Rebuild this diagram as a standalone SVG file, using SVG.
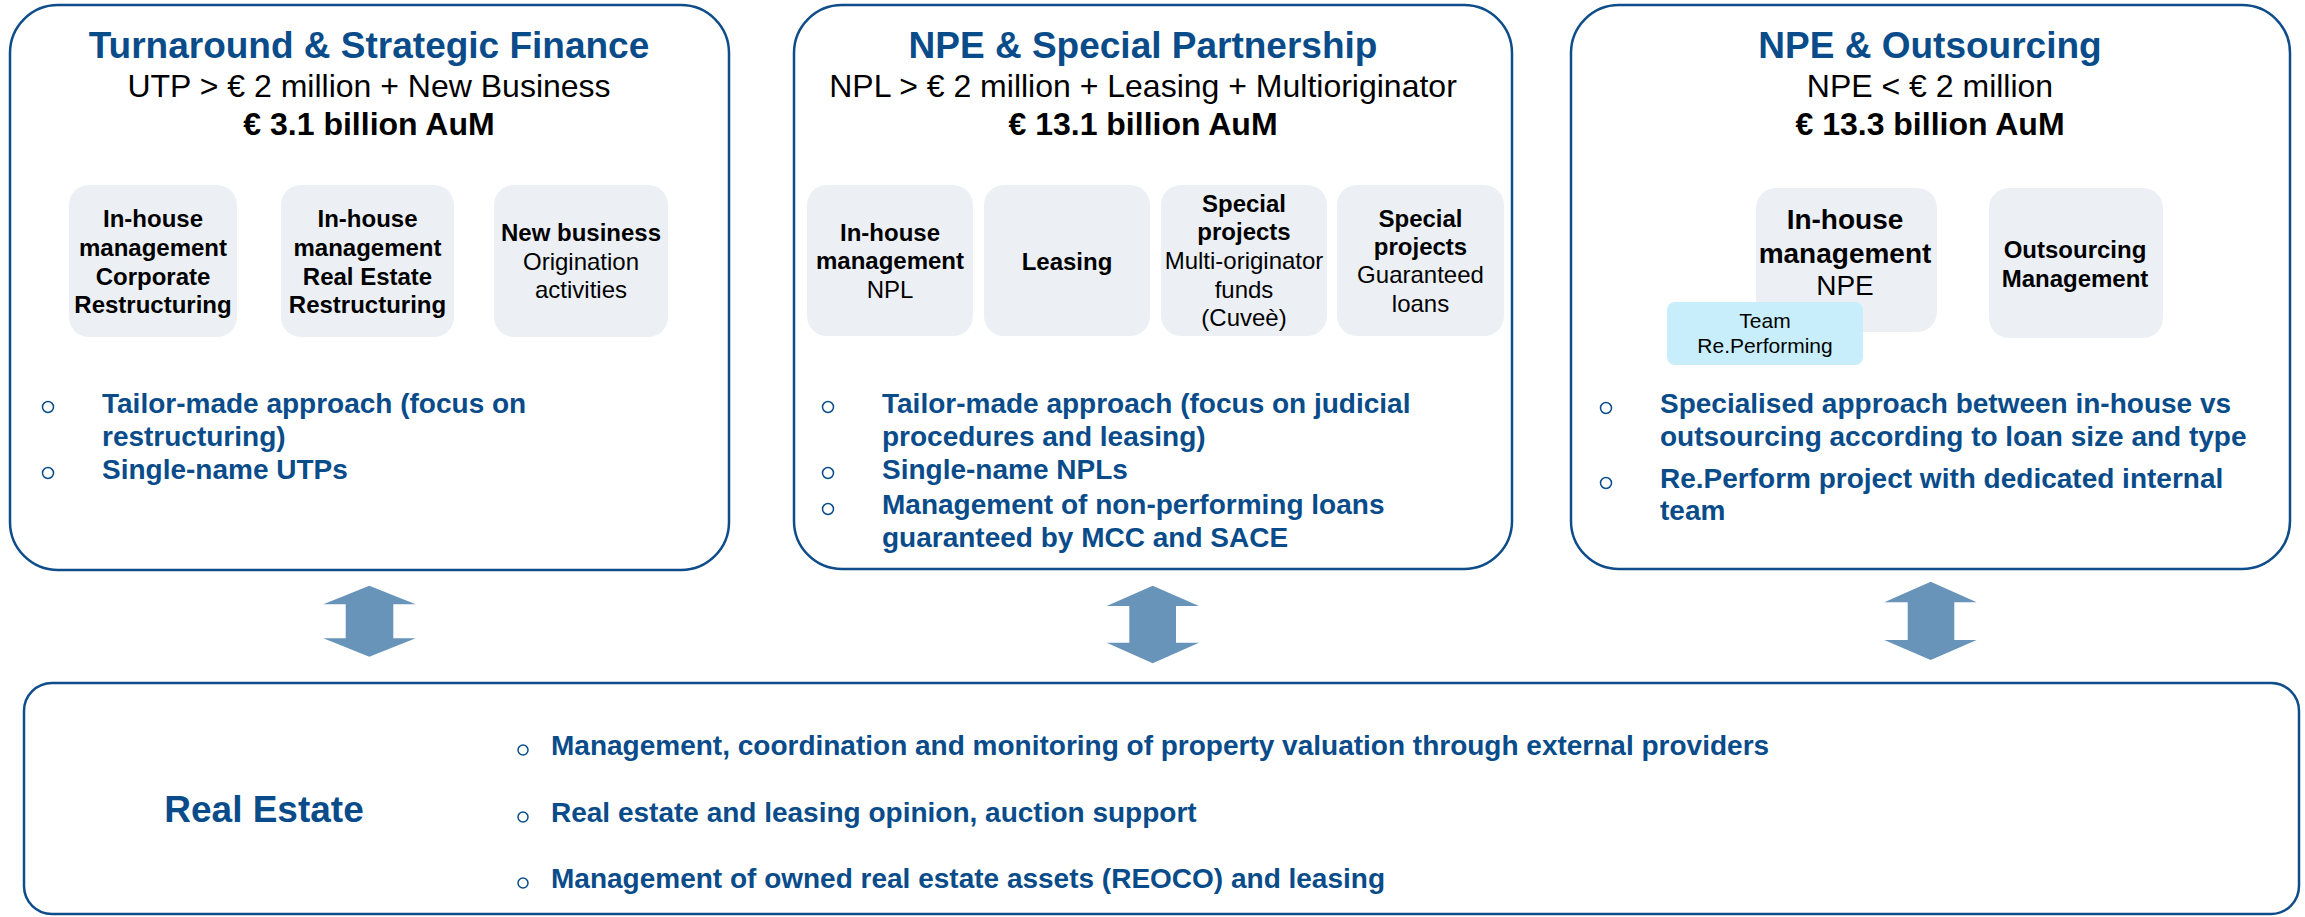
<svg xmlns="http://www.w3.org/2000/svg" width="2305" height="917" viewBox="0 0 2305 917">
<style>
text{font-family:"Liberation Sans",Arial,sans-serif}
.box{fill:#fff;stroke:#0E4C8A;stroke-width:2.5}
.sb{fill:#ECF0F5}
.team{fill:#C8EEFB}
.title{font-size:37px;font-weight:bold;fill:#0A4C8A;text-anchor:middle}
.sub{font-size:32px;fill:#000;text-anchor:middle}
.aum{font-size:32px;font-weight:bold;fill:#000;text-anchor:middle}
.sbt{font-size:24px;fill:#000;text-anchor:middle}
.b{font-weight:bold}
.bl{font-size:28px;font-weight:bold;fill:#0A4C8A}
.bl2{font-size:28px;font-weight:bold;fill:#0A4C8A}
.dot{fill:#fff;stroke:#0A4C8A;stroke-width:1.5}
.arr{fill:#6894BA}
</style>

<g id="turnaround">
<rect class="box" x="10" y="5" width="719" height="565" rx="48"/>
<text class="title" x="369" y="58">Turnaround &amp; Strategic Finance</text>
<text class="sub" x="369" y="97">UTP &gt; € 2 million + New Business</text>
<text class="aum" x="369" y="135">€ 3.1 billion AuM</text>
<g id="t-sb1"><rect class="sb" x="69" y="185" width="168" height="152" rx="20"/>
<text class="sbt b" x="153" y="227">In-house</text><text class="sbt b" x="153" y="256">management</text><text class="sbt b" x="153" y="285">Corporate</text><text class="sbt b" x="153" y="313">Restructuring</text></g>
<g id="t-sb2"><rect class="sb" x="281" y="185" width="173" height="152" rx="20"/>
<text class="sbt b" x="367.5" y="227">In-house</text><text class="sbt b" x="367.5" y="256">management</text><text class="sbt b" x="367.5" y="285">Real Estate</text><text class="sbt b" x="367.5" y="313">Restructuring</text></g>
<g id="t-sb3"><rect class="sb" x="494" y="185" width="174" height="152" rx="20"/>
<text class="sbt b" x="581" y="241">New business</text><text class="sbt" x="581" y="270">Origination</text><text class="sbt" x="581" y="298">activities</text></g>
<circle class="dot" cx="48" cy="407" r="5.5"/>
<text class="bl" x="102" y="413">Tailor-made approach (focus on</text>
<text class="bl" x="102" y="446">restructuring)</text>
<circle class="dot" cx="48" cy="473" r="5.5"/>
<text class="bl" x="102" y="479">Single-name UTPs</text>
</g>

<g id="npe-special">
<rect class="box" x="794" y="5" width="718" height="564" rx="48"/>
<text class="title" x="1143" y="58">NPE &amp; Special Partnership</text>
<text class="sub" x="1143" y="97">NPL &gt; € 2 million + Leasing + Multioriginator</text>
<text class="aum" x="1143" y="135">€ 13.1 billion AuM</text>
<g id="s-sb1"><rect class="sb" x="807" y="185" width="166" height="151" rx="20"/>
<text class="sbt b" x="890" y="241">In-house</text><text class="sbt b" x="890" y="269">management</text><text class="sbt" x="890" y="298">NPL</text></g>
<g id="s-sb2"><rect class="sb" x="984" y="185" width="166" height="151" rx="20"/>
<text class="sbt b" x="1067" y="270">Leasing</text></g>
<g id="s-sb3"><rect class="sb" x="1161" y="185" width="166" height="151" rx="20"/>
<text class="sbt b" x="1244" y="212">Special</text><text class="sbt b" x="1244" y="240">projects</text><text class="sbt" x="1244" y="269">Multi-originator</text><text class="sbt" x="1244" y="298">funds</text><text class="sbt" x="1244" y="326">(Cuveè)</text></g>
<g id="s-sb4"><rect class="sb" x="1337" y="185" width="167" height="151" rx="20"/>
<text class="sbt b" x="1420.5" y="227">Special</text><text class="sbt b" x="1420.5" y="255">projects</text><text class="sbt" x="1420.5" y="283">Guaranteed</text><text class="sbt" x="1420.5" y="312">loans</text></g>
<circle class="dot" cx="828" cy="407" r="5.5"/>
<text class="bl" x="882" y="413">Tailor-made approach (focus on judicial</text>
<text class="bl" x="882" y="446">procedures and leasing)</text>
<circle class="dot" cx="828" cy="473" r="5.5"/>
<text class="bl" x="882" y="479">Single-name NPLs</text>
<circle class="dot" cx="828" cy="509" r="5.5"/>
<text class="bl" x="882" y="514">Management of non-performing loans</text>
<text class="bl" x="882" y="547">guaranteed by MCC and SACE</text>
</g>

<g id="npe-outsourcing">
<rect class="box" x="1571" y="5" width="719" height="564" rx="48"/>
<text class="title" x="1930" y="58">NPE &amp; Outsourcing</text>
<text class="sub" x="1930" y="97">NPE &lt; € 2 million</text>
<text class="aum" x="1930" y="135">€ 13.3 billion AuM</text>
<g id="o-sb1"><rect class="sb" x="1756" y="188" width="181" height="144" rx="20"/>
<text class="sbt b" x="1845" y="229" style="font-size:28px">In-house</text><text class="sbt b" x="1845" y="263" style="font-size:28px">management</text><text class="sbt" x="1845" y="295" style="font-size:28px">NPE</text></g>
<g id="o-sb2"><rect class="sb" x="1989" y="188" width="174" height="150" rx="20"/>
<text class="sbt b" x="2075" y="258">Outsourcing</text><text class="sbt b" x="2075" y="287">Management</text></g>
<g id="o-team"><rect class="team" x="1667" y="302" width="196" height="63" rx="8"/>
<text class="sbt" x="1765" y="328" style="font-size:21px">Team</text><text class="sbt" x="1765" y="353" style="font-size:21px">Re.Performing</text></g>
<circle class="dot" cx="1606" cy="408" r="5.5"/>
<text class="bl" x="1660" y="413">Specialised approach between in-house vs</text>
<text class="bl" x="1660" y="446">outsourcing according to loan size and type</text>
<circle class="dot" cx="1606" cy="483" r="5.5"/>
<text class="bl" x="1660" y="488">Re.Perform project with dedicated internal</text>
<text class="bl" x="1660" y="520">team</text>
</g>

<g id="connectors">
<polygon class="arr" points="369.3,585.7 415.7,604.3 393.3,604.3 393.3,638.3 415.7,638.3 369.3,656.7 323.3,638.3 345.7,638.3 345.7,604.3 323.3,604.3"/>
<polygon class="arr" points="1152.7,585.7 1199,606 1176,606 1176,642.7 1199,642.7 1152.7,663.3 1106.7,642.7 1129.3,642.7 1129.3,606 1106.7,606"/>
<polygon class="arr" points="1930.7,581.7 1976.7,602.3 1954.3,602.3 1954.3,640 1976.7,640 1930.7,660 1884.3,640 1907.7,640 1907.7,602.3 1884.3,602.3"/>
</g>

<g id="real-estate">
<rect class="box" x="24" y="683" width="2275" height="231" rx="28"/>
<text x="264" y="822" style="font-size:37px;font-weight:bold;fill:#0A4C8A;text-anchor:middle">Real Estate</text>
<circle class="dot" cx="523" cy="750" r="5"/>
<text class="bl2" x="551" y="755">Management, coordination and monitoring of property valuation through external providers</text>
<circle class="dot" cx="523" cy="817" r="5"/>
<text class="bl2" x="551" y="822">Real estate and leasing opinion, auction support</text>
<circle class="dot" cx="523" cy="883" r="5"/>
<text class="bl2" x="551" y="888">Management of owned real estate assets (REOCO) and leasing</text>
</g>
</svg>
